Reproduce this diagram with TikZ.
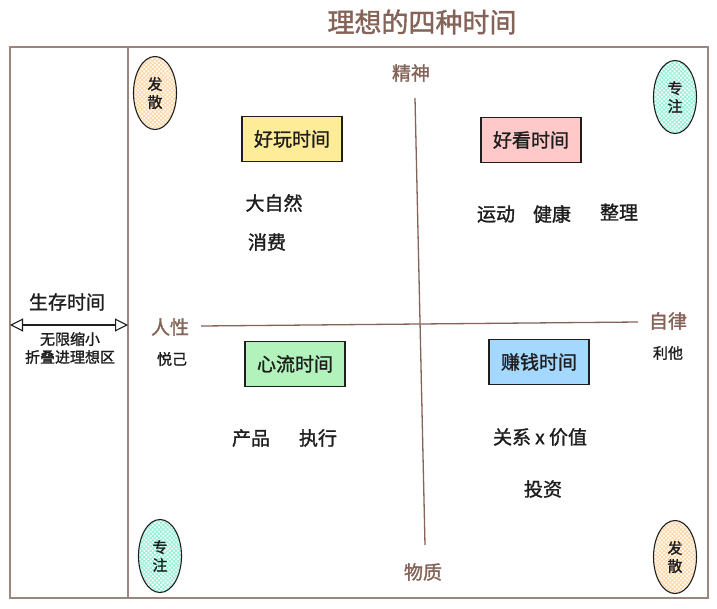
\documentclass[tikz,border=0pt]{standalone}
\usepackage{fontspec}
\setmainfont[AutoFakeBold=1.4]{Noto Sans CJK SC}
\usepackage{tikz}
\usetikzlibrary{arrows.meta,shapes.geometric,patterns.meta}
\usepackage{xcolor}
\definecolor{inkdark}{HTML}{1E1E1E}
\definecolor{barkbrown}{HTML}{846358}
\definecolor{framebrown}{HTML}{9C857D}
\definecolor{softyellow}{HTML}{FFEC99}
\definecolor{softpink}{HTML}{FFC9C9}
\definecolor{softgreen}{HTML}{B2F2BB}
\definecolor{softblue}{HTML}{A5D8FF}
\definecolor{softpeach}{HTML}{FFD8A8}
\definecolor{softteal}{HTML}{96F2D7}
\tikzset{
  timebox/.style={rectangle, draw=inkdark, line width=1.1pt, text=inkdark,
                  minimum width=100pt, minimum height=45pt, font=\fontsize{19}{21}\selectfont\bfseries},
  boxyellow/.style={timebox, fill=softyellow},
  boxpink/.style={timebox, fill=softpink},
  boxgreen/.style={timebox, fill=softgreen},
  boxblue/.style={timebox, fill=softblue},
  pole/.style={ellipse, draw=inkdark, line width=1.1pt, inner sep=0pt, text=inkdark,
               minimum width=43pt, minimum height=73pt, align=center,
               font=\fontsize{15}{18}\selectfont\bfseries},
  polepeach/.style={pole, pattern={Hatch[angle=45,distance=3pt,line width=1pt]}, pattern color=softpeach},
  poleteal/.style={pole, pattern={Hatch[angle=45,distance=3pt,line width=1pt]}, pattern color=softteal},
  item/.style={font=\fontsize{19}{21}\selectfont\bfseries, text=inkdark, inner sep=0pt},
  smallitem/.style={font=\fontsize{15}{18}\selectfont\bfseries, text=inkdark, inner sep=0pt, align=center},
  axislabel/.style={font=\fontsize{19}{21}\selectfont\bfseries, text=barkbrown, inner sep=0pt},
  heading/.style={font=\fontsize{27}{30}\selectfont\bfseries, text=barkbrown},
  frameline/.style={draw=framebrown, line width=1.1pt},
  axis/.style={draw=barkbrown, line width=1.3pt},
  bothways/.style={{Triangle[open,length=13pt,width=13pt]}-{Triangle[open,length=13pt,width=13pt]}, line width=1.1pt, inkdark},
}
\begin{document}
\begin{tikzpicture}[x=1pt, y=-1pt]
\useasboundingbox (0,0) rectangle (717,608);
\node[heading] (title) at (422,22) {理想的四种时间};
% frame and left column
\draw[frameline] (10,47) rectangle (708,598);
\draw[frameline] (128,47) -- (128,598);
\node[item] (survive) at (67,302) {生存时间};
\coordinate (leftedge) at (10,325);
\coordinate (dividedge) at (128,325);
\draw[bothways] (leftedge) -- (dividedge);
\node[smallitem] (shrink) at (70,348) {无限缩小\\折叠进理想区};
% axes
\node[axislabel] (spirit) at (411,73) {精神};
\node[axislabel] (matter) at (423,572) {物质};
\node[axislabel] (human) at (170,327) {人性};
\node[axislabel] (discipline) at (668,321) {自律};
\node[smallitem] (selfjoy) at (172,359) {悦己};
\node[smallitem] (others) at (668,353) {利他};
\coordinate (topend) at (415,98);
\coordinate (bottomend) at (425,545);
\coordinate (leftend) at (201,326);
\coordinate (rightend) at (638,322);
\draw[axis] (topend) -- (bottomend);
\draw[axis] (leftend) -- (rightend);
% corner poles
\node[polepeach] (diverge1) at (155,93) {发\\散};
\node[poleteal] (focus1) at (675,97) {专\\注};
\node[poleteal] (focus2) at (160,556) {专\\注};
\node[polepeach] (diverge2) at (675,557) {发\\散};
% quadrants
\node[boxyellow] (fun) at (292,139) {好玩时间};
\node[boxpink] (looks) at (531,140) {好看时间};
\node[boxgreen] (flow) at (295,364) {心流时间};
\node[boxblue] (money) at (539,362) {赚钱时间};
\node[item] (nature) at (274,203) {大自然};
\node[item] (spend) at (267,242) {消费};
\node[item] (sport) at (496,214) {运动};
\node[item] (health) at (552,214) {健康};
\node[item] (tidy) at (619,212) {整理};
\node[item] (product) at (251,438) {产品};
\node[item] (execute) at (318,438) {执行};
\node[item] (relation) at (540,437) {关系 x 价值};
\node[item] (invest) at (543,489) {投资};
\end{tikzpicture}
\end{document}
